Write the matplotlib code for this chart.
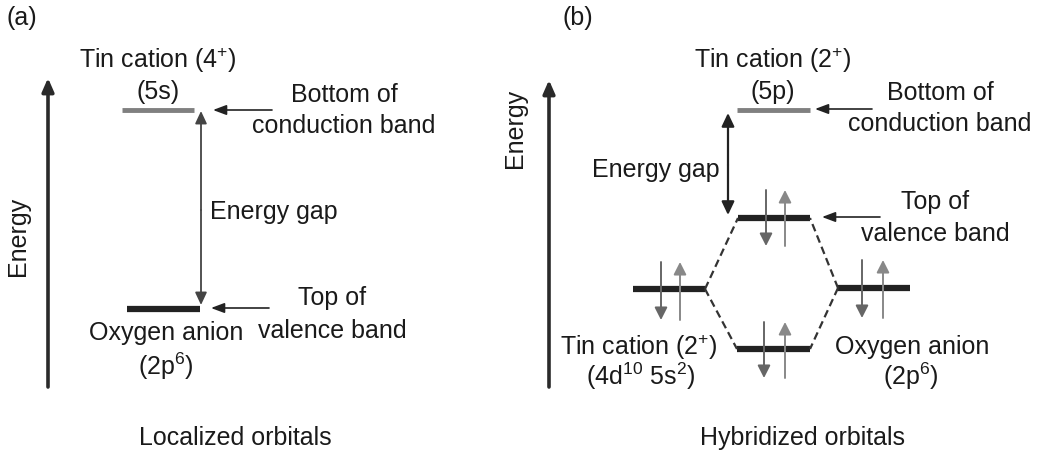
import matplotlib.pyplot as plt

plt.rcParams['font.family'] = ['Liberation Sans', 'DejaVu Sans']
plt.rcParams['mathtext.fontset'] = 'custom'
plt.rcParams['mathtext.rm'] = 'Liberation Sans'
plt.rcParams['mathtext.it'] = 'Liberation Sans'

# energy levels (pixel layout: x start, x end, y level)
levels_a = {
    'sn_5s': (122, 194, 110),
    'o_2p': (127, 200, 309),
}
levels_b = {
    'sn_5p': (737, 810, 110),
    'vb_top': (738, 810, 218),
    'sn_left': (633, 705, 289),
    'o_right': (838, 910, 288),
    'bonding': (737, 810, 349),
}
# spin pairs: (x down, x up, y top, y bottom)
spins = [
    (766, 785, 190, 246),
    (661, 680, 262, 320),
    (862, 883, 260, 318),
    (764, 785, 322, 378),
]

TXT = '#1a1a1a'
FS = 18

fig = plt.figure(figsize=(10.43, 4.57), dpi=100)
ax = fig.add_axes([0, 0, 1, 1])
ax.set_xlim(0, 1043)
ax.set_ylim(457, 0)
ax.axis('off')


def arrow(x0, y0, x1, y1, lw=1.2, color='#333333', hw=0.35, hl=0.9):
    ax.annotate('', xy=(x1, y1), xytext=(x0, y0),
                arrowprops=dict(arrowstyle=f'-|>,head_width={hw},head_length={hl}',
                                color=color, lw=lw, shrinkA=0, shrinkB=0))


def level(lv, color, lw):
    x0, x1, y = lv
    ax.plot([x0, x1], [y, y], color=color, lw=lw, solid_capstyle='butt')


def label(x, y, s, ha='center', **kw):
    ax.text(x, y, s, fontsize=FS, color=TXT, ha=ha, va='center', **kw)


# ---------- panel (a) ----------
label(6, 18, '(a)', ha='left')
arrow(48, 387, 48, 78, lw=2.6, color='#2a2a2a', hw=0.35, hl=0.8)
label(18, 236, 'Energy', rotation=90)

level(levels_a['sn_5s'], '#808080', 3.5)
level(levels_a['o_2p'], '#222222', 4.5)
label(158, 60, r'Tin cation (4$^{+}$)')
label(158, 92, '(5s)')

arrow(201, 210, 201, 111, lw=1.3, color='#444444', hw=0.35, hl=0.75)
arrow(201, 210, 201, 305, lw=1.3, color='#444444', hw=0.35, hl=0.75)
label(210, 212, 'Energy gap', ha='left')

arrow(272, 110, 213, 110, lw=1.2, color='#222222', hw=0.3, hl=0.8)
label(344, 95, 'Bottom of')
label(344, 126, 'conduction band')

arrow(269, 308, 211, 308, lw=1.2, color='#222222', hw=0.3, hl=0.8)
label(332, 298, 'Top of')
label(332, 331, 'valence band')

label(166, 333, 'Oxygen anion')
label(166, 366, r'(2p$^{6}$)')
label(235, 438, 'Localized orbitals')

# ---------- panel (b) ----------
label(563, 18, '(b)', ha='left')
arrow(549, 387, 549, 80, lw=2.6, color='#2a2a2a', hw=0.35, hl=0.8)
label(515, 128, 'Energy', rotation=90)

level(levels_b['sn_5p'], '#808080', 3.5)
for key in ['vb_top', 'sn_left', 'o_right', 'bonding']:
    level(levels_b[key], '#222222', 4.5)

# dashed correlation lines
l, r, t, b = (levels_b['sn_left'], levels_b['o_right'],
              levels_b['vb_top'], levels_b['bonding'])
for p, q in [((l[1], l[2]), (t[0], t[2])), ((r[0], r[2]), (t[1], t[2])),
             ((l[1], l[2]), (b[0], b[2])), ((r[0], r[2]), (b[1], b[2]))]:
    ax.plot([p[0], q[0]], [p[1], q[1]], color='#333333', lw=1.6, ls=(0, (3.5, 2)))

for xd, xu, ytop, ybot in spins:
    arrow(xd, ytop, xd, ybot, lw=1.4, color='#666666', hw=0.38, hl=0.75)
    arrow(xu, ybot, xu, ytop, lw=1.4, color='#888888', hw=0.38, hl=0.75)

label(773, 60, r'Tin cation (2$^{+}$)')
label(773, 92, '(5p)')

arrow(728, 165, 728, 113, lw=1.6, color='#222222', hw=0.38, hl=0.8)
arrow(728, 165, 728, 215, lw=1.6, color='#222222', hw=0.38, hl=0.8)
label(720, 170, 'Energy gap', ha='right')

arrow(872, 109, 815, 109, lw=1.2, color='#222222', hw=0.3, hl=0.8)
label(940, 93, 'Bottom of')
label(940, 124, 'conduction band')

arrow(880, 217, 822, 217, lw=1.2, color='#222222', hw=0.3, hl=0.8)
label(935, 202, 'Top of')
label(935, 234, 'valence band')

label(718, 347, r'Tin cation (2$^{+}$)', ha='right')
label(695, 376, r'(4d$^{10}$ 5s$^{2}$)', ha='right')
label(912, 347, 'Oxygen anion')
label(911, 376, r'(2p$^{6}$)')
label(803, 438, 'Hybridized orbitals')

fig.savefig('out.png', dpi=100)
